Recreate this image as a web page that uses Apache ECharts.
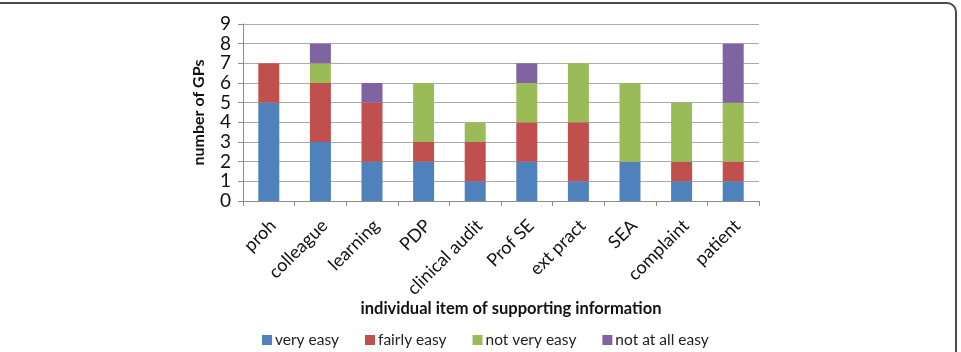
<!DOCTYPE html>
<html lang="en">
<head>
    <meta charset="UTF-8">
    <title>supporting information</title>
    <script src="https://cdn.jsdelivr.net/npm/echarts@6/dist/echarts.min.js"></script>
    <style>
        html, body {margin:0; padding:0; background:#fff}
    </style>
</head>
<body>
<div id="main" style="width: 961px; height:352px;"></div>
<script>
    var items = ['proh', 'colleague', 'learning', 'PDP', 'clinical audit', 'Prof SE', 'ext pract', 'SEA', 'complaint', 'patient'];
    var veryEasy = [5, 3, 2, 2, 1, 2, 1, 2, 1, 1];
    var fairlyEasy = [2, 3, 3, 1, 2, 2, 3, 0, 1, 1];
    var notVeryEasy = [0, 1, 0, 3, 1, 2, 3, 4, 3, 3];
    var notAtAllEasy = [0, 1, 1, 0, 0, 1, 0, 0, 0, 3];
    var yTicks = [0, 1, 2, 3, 4, 5, 6, 7, 8, 9];

    var font = 'Lato';
    var chart = echarts.init(document.getElementById('main'));

    function bar(name, data, color) {
        return {
            name: name,
            type: 'bar',
            stack: 'total',
            barWidth: 21,
            itemStyle: {color: color},
            data: data
        };
    }

    chart.setOption({
        animation: false,
        textStyle: {fontFamily: font},
        // frame round the figure (only top and right edges show)
        graphic: [{
            type: 'rect',
            shape: {x: -20, y: 3, width: 976, height: 400, r: 9},
            style: {fill: 'none', stroke: '#4a4a4a', lineWidth: 2},
            silent: true
        }],
        grid: {left: 243, right: 202, top: 24, bottom: 151},
        legend: {
            top: 327,
            left: 257,
            itemWidth: 10,
            itemHeight: 10,
            itemGap: 26,
            icon: 'rect',
            textStyle: {fontFamily: font, fontSize: 15.5, color: '#222', padding: [0, 0, 0, -2]},
            data: ['very easy', 'fairly easy', 'not very easy', 'not at all easy']
        },
        xAxis: {
            type: 'category',
            data: items,
            name: 'individual item of supporting information',
            nameLocation: 'middle',
            nameGap: 99,
            nameMoveOverlap: false,
            nameTextStyle: {fontFamily: font, fontSize: 16.5, fontWeight: 'bold', color: '#111', padding: [0, 0, 0, 20]},
            axisLine: {lineStyle: {color: '#8c8c8c', width: 1}},
            axisTick: {show: true, length: 5, lineStyle: {color: '#8c8c8c'}},
            axisLabel: {rotate: 45, fontSize: 18, color: '#111', margin: 26, interval: 0, padding: [0, -6, 0, 0]}
        },
        yAxis: {
            type: 'value',
            min: 0,
            max: 9,
            interval: 1,
            name: 'number of GPs',
            nameLocation: 'middle',
            nameGap: 36,
            nameTextStyle: {fontFamily: font, fontSize: 16, fontWeight: 'bold', color: '#111'},
            axisLine: {show: true, lineStyle: {color: '#8c8c8c'}},
            axisTick: {show: true, length: 5, lineStyle: {color: '#8c8c8c'}},
            axisLabel: {
                fontSize: 19, color: '#111', margin: 12,
                formatter: function (v) { return yTicks.indexOf(v) >= 0 ? String(v) : ''; }
            },
            splitLine: {lineStyle: {color: '#ababab', width: 1}}
        },
        series: [
            bar('very easy', veryEasy, '#4f81bd'),
            bar('fairly easy', fairlyEasy, '#c0504d'),
            bar('not very easy', notVeryEasy, '#9bbb59'),
            bar('not at all easy', notAtAllEasy, '#8064a2')
        ]
    });
</script>
</body>
</html>
